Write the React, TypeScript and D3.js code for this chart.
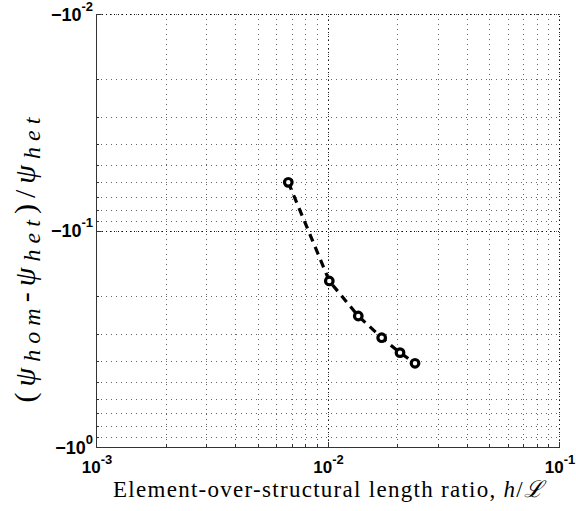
import React from "react";
import * as d3 from "d3";

const xValues = [0.00677, 0.01018, 0.01358, 0.01714, 0.02057, 0.02388];
const yValues = [-0.0599, -0.171, -0.2483, -0.3127, -0.3667, -0.4105];
const xTickExps = [-3, -2, -1];
const yTickExps = [-2, -1, 0];

const W = 576;
const H = 511;
const X0 = 96, X1 = 559, Y0 = 14, Y1 = 447;

export default function App() {
  const x = d3.scaleLog().domain([1e-3, 1e-1]).range([X0, X1]);
  const y = d3.scaleLog().domain([1e-2, 1]).range([Y0, Y1]);

  const xMinor: number[] = [];
  for (const e of [-3, -2]) for (let k = 1; k <= 9; k++) xMinor.push(k * Math.pow(10, e));
  xMinor.push(0.1);
  const yMinor: number[] = [];
  for (const e of [-2, -1]) for (let k = 1; k <= 9; k++) yMinor.push(k * Math.pow(10, e));
  yMinor.push(1);

  const pts = xValues.map((v, i) => [x(v), y(Math.abs(yValues[i]))] as [number, number]);
  const line = d3.line()(pts) || "";

  const tickFont = "'Liberation Sans', Arial, Helvetica, sans-serif";
  const serif = "'Liberation Serif', 'DejaVu Serif', serif";

  return (
    <svg width={W} height={H} style={{ position: "absolute", left: 0, top: 0, background: "#fff" }}>
      <rect x={0} y={0} width={W} height={H} fill="#fff" />
      {/* grid */}
      <g shapeRendering="crispEdges">
        {xMinor.map((v, i) => (
          <line key={"gx" + i} x1={Math.round(x(v)) + 0.5} x2={Math.round(x(v)) + 0.5} y1={Y0} y2={Y1}
            stroke="#666" strokeWidth={1} strokeDasharray="1,4" />
        ))}
        {yMinor.map((v, i) => (
          <line key={"gy" + i} x1={X0} x2={X1} y1={Math.round(y(v)) + 0.5} y2={Math.round(y(v)) + 0.5}
            stroke="#666" strokeWidth={1} strokeDasharray="1,4" />
        ))}
        {xTickExps.map((e, i) => (
          <line key={"mx" + i} x1={Math.round(x(Math.pow(10, e))) + 0.5} x2={Math.round(x(Math.pow(10, e))) + 0.5} y1={Y0} y2={Y1}
            stroke="#111" strokeWidth={1} strokeDasharray="1,3" strokeDashoffset={2} />
        ))}
        {yTickExps.map((e, i) => (
          <line key={"my" + i} x1={X0} x2={X1} y1={Math.round(y(Math.pow(10, e))) + 0.5} y2={Math.round(y(Math.pow(10, e))) + 0.5}
            stroke="#111" strokeWidth={1} strokeDasharray="1,3" strokeDashoffset={2} />
        ))}
      </g>
      {/* axes */}
      <g shapeRendering="crispEdges" stroke="#333" strokeWidth={1}>
        <line x1={X0 + 0.5} x2={X0 + 0.5} y1={Y0} y2={Y1 + 1} />
        <line x1={X0} x2={X1 + 1} y1={Y1 + 0.5} y2={Y1 + 0.5} />
        {xMinor.map((v, i) => {
          const major = Math.abs(Math.log10(v) - Math.round(Math.log10(v))) < 1e-9;
          const px = Math.round(x(v)) + 0.5;
          return <line key={"tx" + i} x1={px} x2={px} y1={Y1} y2={Y1 - (major ? 5 : 3)} />;
        })}
        {yMinor.map((v, i) => {
          const major = Math.abs(Math.log10(v) - Math.round(Math.log10(v))) < 1e-9;
          const py = Math.round(y(v)) + 0.5;
          return <line key={"ty" + i} x1={X0} x2={X0 + (major ? 5 : 3)} y1={py} y2={py} />;
        })}
      </g>
      {/* tick labels */}
      {xTickExps.map((e, i) => (
        <text key={"xl" + i} x={x(Math.pow(10, e)) + 1} y={473} textAnchor="middle"
          fontFamily={tickFont} fontWeight="bold" fontSize={17} fill="#000">
          10<tspan dy={-9} fontSize={13}>{String(e)}</tspan>
        </text>
      ))}
      {yTickExps.map((e, i) => (
        <text key={"yl" + i} x={93} y={y(Math.pow(10, e)) + 6.5} textAnchor="end"
          fontFamily={tickFont} fontWeight="bold" fontSize={18} fill="#000">
          {"\u221210"}<tspan dy={-10} fontSize={13}>{String(e)}</tspan>
        </text>
      ))}
      {/* data */}
      <path d={line} fill="none" stroke="#000" strokeWidth={3.2} strokeDasharray="8,6" />
      {pts.map((p, i) => (
        <circle key={"c" + i} cx={p[0]} cy={p[1]} r={3.8} fill="#fff" stroke="#000" strokeWidth={3.2} />
      ))}
      {/* axis titles */}
      <text x={113} y={497} fontFamily={serif} fontSize={23} fill="#000"
        textLength={430} lengthAdjust="spacing">
        Element-over-structural length ratio, <tspan fontStyle="italic">h</tspan>/<tspan fontStyle="italic">ℒ</tspan>
      </text>
      <g transform="translate(35,260) rotate(-90)">
        <text x={0} y={0} textAnchor="middle" fontFamily={serif} fontSize={30} fill="#000"
          textLength={285} lengthAdjust="spacing">
          (<tspan fontStyle="italic">ψ</tspan><tspan fontStyle="italic" fontSize={24} dy={5}>hom</tspan><tspan dy={-5}>-</tspan><tspan fontStyle="italic">ψ</tspan><tspan fontStyle="italic" fontSize={24} dy={5}>het</tspan><tspan dy={-5}>)/</tspan><tspan fontStyle="italic">ψ</tspan><tspan fontStyle="italic" fontSize={24} dy={5}>het</tspan>
        </text>
      </g>
    </svg>
  );
}
